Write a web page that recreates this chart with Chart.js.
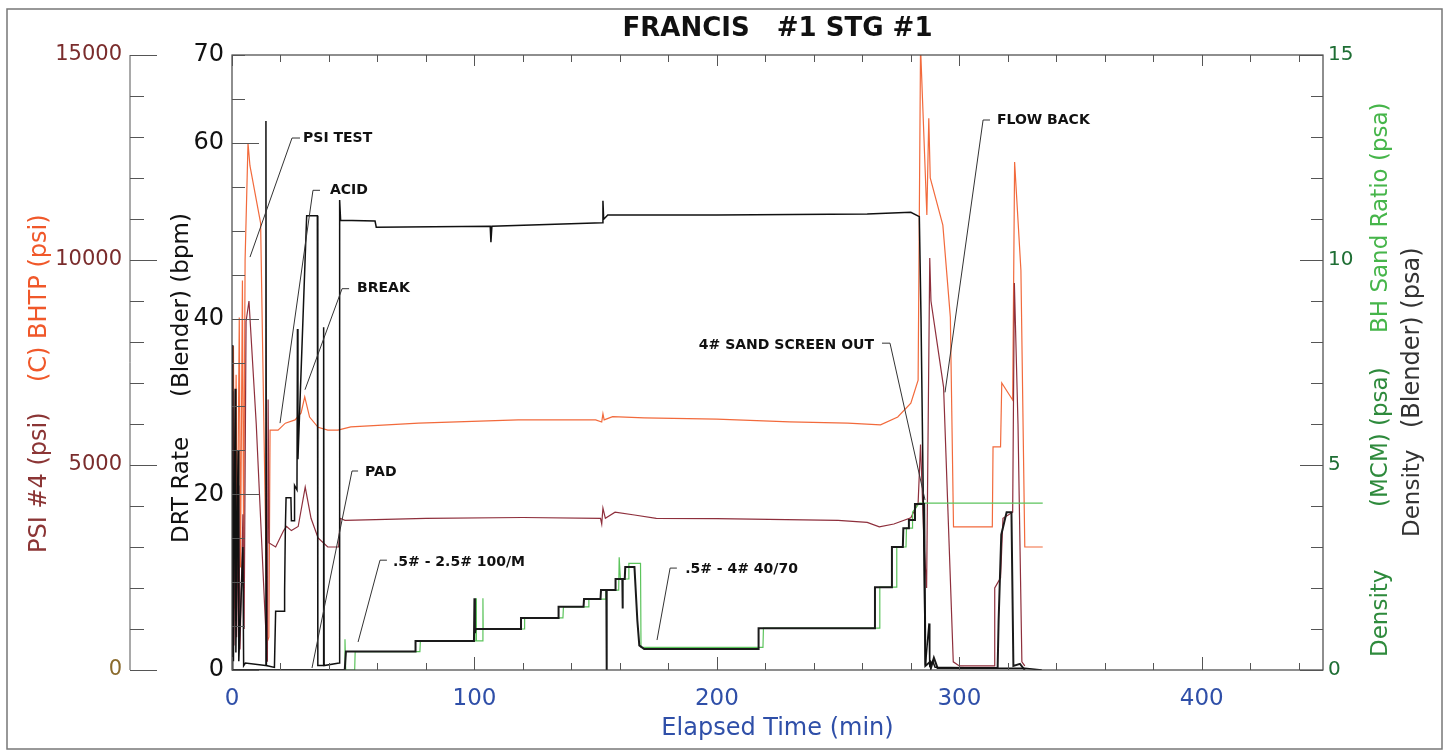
<!DOCTYPE html>
<html><head><meta charset="utf-8">
<script src="https://cdn.jsdelivr.net/npm/chart.js@4.4.1/dist/chart.umd.min.js"></script>
<style>html,body{margin:0;padding:0;background:#fff;}canvas{display:block;}</style>
</head><body>
<canvas id="c" width="1450" height="753"></canvas>
<script>
const FONT = '"DejaVu Sans", sans-serif';

// ---- DATA (elapsed minutes / values) ----
const rateMin = [0,0.3,0.6,1.3,1.6,2.5,2.8,4.5,4.8,5.5,13.8,14.0,14.2,17.5,18.0,21.5,21.7,22.0,22.3,24.3,24.5,25.6,25.8,26.8,27.0,27.2,30.8,35.2,35.4,37.6,37.8,38.0,44.2,44.4,44.8,59.0,59.5,106.5,106.8,107.2,152.8,153.0,153.3,155.0,200.0,262.0,280.0,283.5,284.2,286.0,287.5,287.8,289.0,290.0,315.0,327.0,334.0];
const rateBpm = [0,37,1,32,2,25,1,14,0.5,0.8,0.5,62.5,0.5,0.3,6.7,6.7,9,16,19.6,19.6,17,17,21,20.5,38.8,24,51.7,51.7,0.5,0.5,39,0.5,0.8,53.5,51.2,51.1,50.4,50.5,48.7,50.5,50.9,53.4,51.3,51.8,51.8,51.9,52.1,51.6,40,0.5,5.3,0.5,1,0.3,0.2,0.2,0];

const bhMin = [0,0.6,1.0,1.7,2.1,3.0,3.5,4.3,4.8,5.4,6.6,7.4,11.8,14.6,15.2,15.7,19,22,26,28.5,30,32,35.5,39.5,43.7,49,77,118,150,152.5,153,153.5,157,170,200,230,254,267.5,274.6,280,283,284,286.6,287.4,288,293.2,296.3,297.6,313.6,313.9,317,317.5,322,322.8,325.4,327,334.4];
const bhPsi = [3200,7900,1500,7200,2000,8600,2500,9500,3000,10000,12850,12300,10900,700,800,5850,5850,6020,6100,6270,6660,6170,5920,5850,5850,5930,6020,6100,6100,6050,6250,6100,6180,6150,6120,6050,6020,5980,6170,6510,7070,15200,11100,13460,12000,10850,8600,3490,3490,5440,5440,7000,6585,12390,9750,3000,3000];

const p4Min = [0,0.4,0.8,1.5,1.9,2.8,3.3,4.5,5.0,5.8,7.0,10.0,13.5,14.6,14.9,15.3,18,21.3,22.5,24.5,27.3,30.2,32.6,35.5,39.5,44.0,44.6,46.6,55,80,120,152,152.5,153,154,158,166,175,200,250,262,267,273,280,283,284,285.5,286.5,287.8,288.3,293.5,297.5,300,314.3,314.6,317,318,322,322.7,324.2,325.8,327];
const p4Psi = [2500,6800,600,5300,800,4500,500,3800,1000,8500,9000,6000,1500,200,6600,3100,3000,3400,3500,3400,3500,4460,3700,3220,3000,3000,3700,3650,3660,3700,3720,3700,3560,3950,3700,3850,3780,3700,3690,3650,3600,3490,3560,3710,4070,5500,3000,2000,10050,9000,6900,200,100,100,2000,2250,3700,3850,9440,6000,200,100];

const sandMin = [46.4,46.6,46.9,50.6,50.8,77.5,77.7,100.6,100.7,100.8,103.4,103.5,103.6,120.5,120.7,136.5,136.7,147,147.2,154,154.2,159.5,159.7,160.2,163.5,163.7,168.5,168.7,219,219.2,267,267.2,274,274.2,278,278.2,280.5,280.7,283.5,334.4];
const sandPpa = [0,0.75,0,0,0.45,0.45,0.71,0.71,1.75,0.71,0.71,1.75,1.0,1.0,1.27,1.27,1.54,1.54,1.73,1.73,1.95,1.95,2.75,2.22,2.22,2.6,2.6,0.55,0.55,1.02,1.02,2.02,2.02,3.0,3.0,3.46,3.46,3.85,4.07,4.07];

const densMin = [0,46.5,47,75.5,75.7,99.8,100,100.2,100.4,119,119.2,134.5,134.7,145,145.2,152,152.2,154.4,154.5,154.6,158,158.2,161,161.1,161.2,162,162.2,166,167.2,168,170,217,217.2,265,265.2,272,272.2,276.7,276.9,279,279.2,281.5,281.7,285.5,286,288,288.3,289.5,291,315.8,316.2,317.3,318.5,319.5,321.5,322.3,325,327];
const densPpa = [0,0,0.45,0.45,0.71,0.71,1.75,0.9,1.0,1.0,1.27,1.27,1.54,1.54,1.73,1.73,1.95,1.95,0,1.95,1.95,2.22,2.22,1.5,2.22,2.22,2.51,2.51,1.2,0.6,0.51,0.51,1.02,1.02,2.02,2.02,3.0,3.0,3.46,3.46,3.66,3.66,4.05,4.05,0.1,0.2,0.05,0.3,0.05,0.05,1.2,3.3,3.6,3.85,3.85,0.1,0.15,0];

// Annotations (positions in minutes / bpm)
const noteText = ['PSI TEST','ACID','BREAK','PAD','.5# - 2.5# 100/M','.5# - 4# 40/70','4# SAND SCREEN OUT','FLOW BACK'];
const noteAt   = [[29.3,60.55],[40.4,54.6],[51.6,43.4],[54.9,22.5],[66.4,12.3],[186.9,11.4],[264.8,37.0],[315.5,62.6]];
const noteAlign= ['left','left','left','left','left','left','right','left'];
const notePath = [
  [[28.05,60.55],[24.75,60.55],[7.42,47.0]],
  [[36.3,54.6],[33.4,54.6],[19.8,28.1]],
  [[48.3,43.4],[45.4,43.4],[30.1,31.9]],
  [[52.0,22.65],[49.5,22.65],[33.0,0.23]],
  [[63.9,12.5],[61.05,12.5],[52.0,3.19]],
  [[183.5,11.6],[180.7,11.6],[175.3,3.41]],
  [[268.1,37.2],[271.4,37.2],[285.85,19.35]],
  [[312.65,62.6],[309.8,62.6],[294.1,31.6]]
];

function pts(xs, ys){ return xs.map((x,i)=>({x:x, y:ys[i]})); }

const decor = {
  id:'decor',
  beforeDraw(chart){
    const c = chart.ctx; c.save(); c.fillStyle='#fff'; c.fillRect(0,0,chart.width,chart.height); c.restore();
  },
  afterDraw(chart){
    const c = chart.ctx, a = chart.chartArea, s = chart.scales;
    c.save();
    c.strokeStyle='#777'; c.lineWidth=1.5;
    c.strokeRect(7,9,1435,740);
    c.strokeStyle='#444'; c.lineWidth=1.2;
    c.strokeRect(a.left, a.top, a.right-a.left, a.bottom-a.top);
    c.lineWidth=1;
    function yTicks(scale, x0, dir, step, len){
      for(let v=scale.min; v<=scale.max+1e-9; v+=step){
        const y = Math.round(scale.getPixelForValue(v))+0.5;
        c.beginPath(); c.moveTo(x0,y); c.lineTo(x0+dir*len,y); c.stroke();
      }
    }
    function xTicks(scale, y0, dir, step, len){
      for(let v=scale.min; v<=scale.max+1e-9; v+=step){
        const x = Math.round(scale.getPixelForValue(v))+0.5;
        c.beginPath(); c.moveTo(x,y0); c.lineTo(x,y0+dir*len); c.stroke();
      }
    }
    const px = s.yPsi.right;
    c.strokeStyle='#555';
    c.beginPath(); c.moveTo(px, s.yPsi.getPixelForValue(15000)); c.lineTo(px, s.yPsi.getPixelForValue(0)); c.stroke();
    yTicks(s.yPsi, px, 1, 5000, 27);
    yTicks(s.yPsi, px, 1, 1000, 14);
    yTicks(s.yDrt, a.left, 1, 20, 27);
    yTicks(s.yDrt, a.left, 1, 5, 13);
    yTicks(s.yR, a.right, -1, 5, 23);
    yTicks(s.yR, a.right, -1, 1, 12);
    xTicks(s.x, a.bottom, -1, 100, 13);
    xTicks(s.x, a.bottom, -1, 20, 7);
    xTicks(s.x, a.top, 1, 100, 11);
    xTicks(s.x, a.top, 1, 20, 7);

    c.fillStyle='#111'; c.font='bold 26px '+FONT; c.textAlign='center'; c.textBaseline='middle';
    c.fillText('FRANCIS   #1 STG #1', (a.left+a.right)/2, 29);
    c.fillStyle='#2f4fa8'; c.font='24px '+FONT;
    c.fillText('Elapsed Time (min)', (a.left+a.right)/2, 729);

    const cols = [
      [40, [['PSI #4 (psi)','#8b3535',553,24],['(C) BHTP (psi)','#f0582a',382,24]]],
      [182,[['DRT Rate','#111',543,23],['(Blender) (bpm)','#111',397,23]]],
      [1381,[['Density','#2e8a3c',657,23],['(MCM) (psa)','#2e8a3c',507,23],['BH Sand Ratio (psa)','#46b54a',333,23]]],
      [1413,[['Density','#333',537,23],['(Blender) (psa)','#333',428,24]]]
    ];
    c.textAlign='left'; c.textBaseline='middle';
    cols.forEach(col=>{
      col[1].forEach(seg=>{
        c.save(); c.translate(col[0], seg[2]); c.rotate(-Math.PI/2);
        c.font = seg[3]+'px '+FONT; c.fillStyle=seg[1];
        c.fillText(seg[0],0,0); c.restore();
      });
    });

    c.font='bold 14px '+FONT; c.fillStyle='#111'; c.strokeStyle='#333'; c.lineWidth=1;
    noteText.forEach((t,i)=>{
      const p = notePath[i];
      c.beginPath();
      p.forEach((q,j)=>{ const X=s.x.getPixelForValue(q[0]), Y=s.yDrt.getPixelForValue(q[1]); if(j===0) c.moveTo(X,Y); else c.lineTo(X,Y); });
      c.stroke();
      c.textAlign = noteAlign[i];
      c.fillText(t, s.x.getPixelForValue(noteAt[i][0]), s.yDrt.getPixelForValue(noteAt[i][1]));
    });
    c.restore();
  }
};

new Chart(document.getElementById('c'), {
  type:'line',
  data:{ datasets:[
    {label:'DRT Rate (Blender)', data:pts(rateMin,rateBpm), yAxisID:'yDrt', borderColor:'#111', borderWidth:1.5},
    {label:'Density (Blender)', data:pts(densMin,densPpa), yAxisID:'yR', borderColor:'#1a1a1a', borderWidth:2},
    {label:'BH Sand Ratio', data:pts(sandMin,sandPpa), yAxisID:'yR', borderColor:'#5cc45c', borderWidth:1.2},
    {label:'PSI #4', data:pts(p4Min,p4Psi), yAxisID:'yPsi', borderColor:'#8e2f3c', borderWidth:1.2},
    {label:'(C) BHTP', data:pts(bhMin,bhPsi), yAxisID:'yPsi', borderColor:'#f26a3c', borderWidth:1.2}
  ]},
  options:{
    responsive:false, animation:false, events:[],
    layout:{padding:{left:0,right:0,top:55,bottom:0}},
    plugins:{legend:{display:false}, tooltip:{enabled:false}, title:{display:false}},
    elements:{point:{radius:0}, line:{tension:0}},
    scales:{
      x:{type:'linear', position:'bottom', min:0, max:450,
         grid:{display:false, drawTicks:false}, border:{display:false},
         ticks:{stepSize:100, includeBounds:false, padding:15, color:'#2f4fa8', font:{size:23, family:FONT}, maxRotation:0, autoSkip:false, callback:v=>String(v)},
         afterFit:sc=>{sc.height=83;}},
      yPsi:{type:'linear', position:'left', weight:2, min:0, max:15000,
         grid:{display:false, drawTicks:false}, border:{display:false},
         ticks:{stepSize:5000, padding:8, color:ctx=>ctx.tick && ctx.tick.value===0 ? '#8a6a2c' : '#7a2c2c', font:{size:21, family:FONT}, callback:v=>String(v)},
         afterFit:sc=>{sc.width=130;}},
      yDrt:{type:'linear', position:'left', weight:1, min:0, max:70,
         grid:{display:false, drawTicks:false}, border:{display:false},
         ticks:{stepSize:20, padding:8, color:'#111', font:{size:24, family:FONT}, callback:v=>String(v)},
         afterFit:sc=>{sc.width=102;}},
      yR:{type:'linear', position:'right', min:0, max:15,
         grid:{display:false, drawTicks:false}, border:{display:false},
         ticks:{stepSize:5, padding:5, color:'#1e6e34', font:{size:20, family:FONT}, callback:v=>String(v)},
         afterFit:sc=>{sc.width=127;}}
    }
  },
  plugins:[decor]
});
</script>
</body></html>
